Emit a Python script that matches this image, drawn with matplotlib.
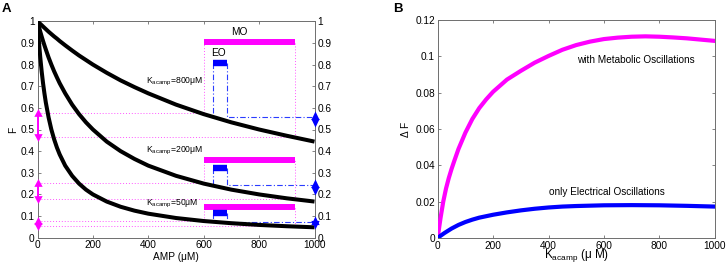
import matplotlib
matplotlib.use("Agg")
import matplotlib.pyplot as plt
from matplotlib.path import Path

plt.rcParams['font.family'] = ['Liberation Sans', 'DejaVu Sans']
plt.rcParams['mathtext.fontset'] = 'custom'
plt.rcParams['mathtext.rm'] = 'Liberation Sans'
plt.rcParams['mathtext.it'] = 'Liberation Sans:italic'

# ---------------- Panel A data ----------------
amp = [0, 2.5, 5, 7.5, 10, 15, 20, 25, 30, 40, 50, 60, 70, 80, 100, 125, 150,
       175, 200, 250, 300, 350, 400, 500, 600, 700, 800, 900, 1000]
F_k50 = [1, 0.952, 0.909, 0.870, 0.833, 0.769, 0.714, 0.667, 0.625, 0.556,
         0.5, 0.455, 0.417, 0.385, 0.333, 0.286, 0.25, 0.222, 0.2, 0.167,
         0.143, 0.125, 0.111, 0.091, 0.077, 0.067, 0.059, 0.053, 0.048]
F_k200 = [1, 0.988, 0.976, 0.964, 0.952, 0.930, 0.909, 0.889, 0.870, 0.833,
          0.8, 0.769, 0.741, 0.714, 0.667, 0.615, 0.571, 0.533, 0.5, 0.444,
          0.4, 0.364, 0.333, 0.286, 0.25, 0.222, 0.2, 0.182, 0.167]
F_k800 = [1, 0.997, 0.994, 0.991, 0.988, 0.982, 0.976, 0.970, 0.964, 0.952,
          0.941, 0.930, 0.920, 0.909, 0.889, 0.865, 0.842, 0.821, 0.8, 0.762,
          0.727, 0.696, 0.667, 0.615, 0.571, 0.533, 0.5, 0.471, 0.444]
k_labels = [r'K$_{\mathregular{acamp}}$=800μM',
            r'K$_{\mathregular{acamp}}$=200μM',
            r'K$_{\mathregular{acamp}}$=50μM']
k_label_pos = [(393, 0.72), (393, 0.40), (393, 0.158)]

mo_range = [600, 930]
eo_range = [635, 683]
mo_bar_y = [0.905, 0.36, 0.142]
eo_bar_y = [0.806, 0.32, 0.114]
mo_top = [0.576, 0.252, 0.078]
mo_bot = [0.464, 0.178, 0.052]
eo_top = [0.559, 0.242, 0.074]
eo_bot = [0.539, 0.227, 0.068]

a_ticks = [0, 0.1, 0.2, 0.3, 0.4, 0.5, 0.6, 0.7, 0.8, 0.9, 1]
a_ticklabels = ['0', '0.1', '0.2', '0.3', '0.4', '0.5', '0.6', '0.7', '0.8', '0.9', '1']
x_ticks = [0, 200, 400, 600, 800, 1000]

# ---------------- Panel B data ----------------
kacamp = [0, 5, 10, 20, 30, 40, 50, 60, 75, 100, 125, 150, 175, 200, 250,
          300, 350, 400, 450, 500, 550, 600, 650, 700, 750, 800, 850, 900,
          950, 1000]
dF_metab = [0, 0.0055, 0.0108, 0.0200, 0.0272, 0.0330, 0.0380, 0.0425,
            0.0490, 0.0580, 0.0655, 0.0715, 0.0763, 0.0805, 0.0872, 0.0920,
            0.0965, 0.1002, 0.1036, 0.1062, 0.1081, 0.1095, 0.1103, 0.1108,
            0.1110, 0.1108, 0.1104, 0.1099, 0.1092, 0.1085]
kacamp_e = [0, 10, 25, 50, 75, 100, 125, 150, 200, 250, 300, 350, 400, 450,
            500, 600, 700, 800, 900, 1000]
dF_elec = [0, 0.0012, 0.0028, 0.0052, 0.0072, 0.0088, 0.0101, 0.0112,
           0.0128, 0.0141, 0.0152, 0.0161, 0.0168, 0.0173, 0.0176, 0.0180,
           0.0181, 0.0180, 0.0177, 0.0173]
b_ticks = [0, 0.02, 0.04, 0.06, 0.08, 0.1, 0.12]
b_ticklabels = ['0', '0.02', '0.04', '0.06', '0.08', '0.1', '0.12']

W, H = 726, 263
fig = plt.figure(figsize=(W / 100, H / 100), dpi=100)

spine_col = '#6e6e6e'
TFS = 7.3

def style(ax):
    for s in ax.spines.values():
        s.set_color(spine_col)
        s.set_linewidth(0.7)
    ax.tick_params(direction='in', length=2.5, width=0.6, color=spine_col,
                   labelsize=TFS, pad=2, top=True, right=True)

def head_marker(half_w, h, base_frac, up=True):
    """Triangle marker in points; returns (path, markersize) at 1 pt/unit."""
    s = 1 if up else -1
    yb = -base_frac * h * s
    yt = (1 - base_frac) * h * s
    verts = [(-half_w, yb), (half_w, yb), (0, yt), (-half_w, yb)]
    path = Path(verts, [Path.MOVETO, Path.LINETO, Path.LINETO, Path.CLOSEPOLY])
    maxabs = max(abs(v) for xy in verts for v in xy)
    return path, 2 * maxabs

def double_arrow(ax, x, y_lo, y_hi, color, half_w, h, base_frac):
    ax.plot([x, x], [y_lo, y_hi], color=color, lw=1.4, clip_on=False, zorder=5)
    pu, msu = head_marker(half_w, h, base_frac, True)
    pd, msd = head_marker(half_w, h, base_frac, False)
    ax.plot([x], [y_hi], marker=pu, ms=msu, color=color, mew=0,
            clip_on=False, zorder=5)
    ax.plot([x], [y_lo], marker=pd, ms=msd, color=color, mew=0,
            clip_on=False, zorder=5)

# ---------------- Panel A ----------------
axA = fig.add_axes([37.5 / W, 1 - 237.7 / H, 277 / W, 216.4 / H])
style(axA)
axA.tick_params(axis='y', labelright=True)
axA.set_xlim(0, 1000)
axA.set_ylim(0, 1)
axA.set_xticks(x_ticks)
axA.set_xticklabels([str(t) for t in x_ticks])
axA.set_yticks(a_ticks)
axA.set_yticklabels(a_ticklabels)

dot_col = '#ff55ff'
eo_col = '#2a3cff'
for i in range(3):
    axA.plot([0, mo_range[0], mo_range[0]], [mo_top[i], mo_top[i], mo_bar_y[i]],
             color=dot_col, lw=0.7, ls=(0, (1, 2)), zorder=1)
    axA.plot([0, mo_range[1], mo_range[1]], [mo_bot[i], mo_bot[i], mo_bar_y[i]],
             color=dot_col, lw=0.7, ls=(0, (1, 2)), zorder=1)
    axA.plot([eo_range[0], eo_range[0]], [eo_bar_y[i], eo_top[i]],
             color=eo_col, lw=0.8, ls=(0, (5, 2, 1, 2)), zorder=1)
    axA.plot([eo_range[1], eo_range[1], 1000], [eo_bar_y[i], eo_top[i], eo_top[i]],
             color=eo_col, lw=0.8, ls=(0, (5, 2, 1, 2)), zorder=1)

for F in (F_k50, F_k200, F_k800):
    axA.plot(amp, F, color='black', lw=2.9, solid_capstyle='butt', zorder=3)

for i in range(3):
    axA.plot(mo_range, [mo_bar_y[i]] * 2, color='magenta', lw=4.3,
             solid_capstyle='butt', zorder=4)
    axA.plot(eo_range, [eo_bar_y[i]] * 2, color='blue', lw=4.6,
             solid_capstyle='butt', zorder=4)
    double_arrow(axA, 0, mo_bot[i], mo_top[i], 'magenta', 3.0, 5.6, 0.43)
    double_arrow(axA, 1000, eo_bot[i], eo_top[i], 'blue', 3.0, 6.2, 0.3)

for lab, (x, y) in zip(k_labels, k_label_pos):
    axA.text(x, y, lab, fontsize=6.2, ha='left', va='center', zorder=6)

axA.text(729, 0.952, 'MO', fontsize=TFS, ha='center', va='center')
axA.text(655, 0.852, 'EO', fontsize=TFS, ha='center', va='center')

axA.set_xlabel('AMP (μM)', fontsize=TFS, labelpad=1)
axA.set_ylabel('F', fontsize=TFS, labelpad=2)

fig.text(6.5 / W, 1 - 9 / H, 'A', fontsize=9.5, fontweight='bold',
         ha='center', va='center')

# ---------------- Panel B ----------------
axB = fig.add_axes([437.7 / W, 1 - 238 / H, 277 / W, 218 / H])
style(axB)
axB.set_xlim(0, 1000)
axB.set_ylim(0, 0.12)
axB.set_xticks(x_ticks)
axB.set_xticklabels([str(t) for t in x_ticks])
axB.set_yticks(b_ticks)
axB.set_yticklabels(b_ticklabels)

axB.plot(kacamp, dF_metab, color='magenta', lw=3.0, zorder=3)
axB.plot(kacamp_e, dF_elec, color='blue', lw=3.0, zorder=3)
axB.text(502, 0.098, 'with Metabolic Oscillations', fontsize=7.2,
         ha='left', va='center')
axB.text(402, 0.0252, 'only Electrical Oscillations', fontsize=7.2,
         ha='left', va='center')

axB.set_xlabel(r'K$_{\mathregular{acamp}}$ (μ M)', fontsize=8.5, labelpad=-3)
axB.set_ylabel('Δ F', fontsize=TFS, labelpad=3)

fig.text(397.5 / W, 1 - 9 / H, 'B', fontsize=9.5, fontweight='bold',
         ha='center', va='center')

fig.savefig('out.png', dpi=100)
